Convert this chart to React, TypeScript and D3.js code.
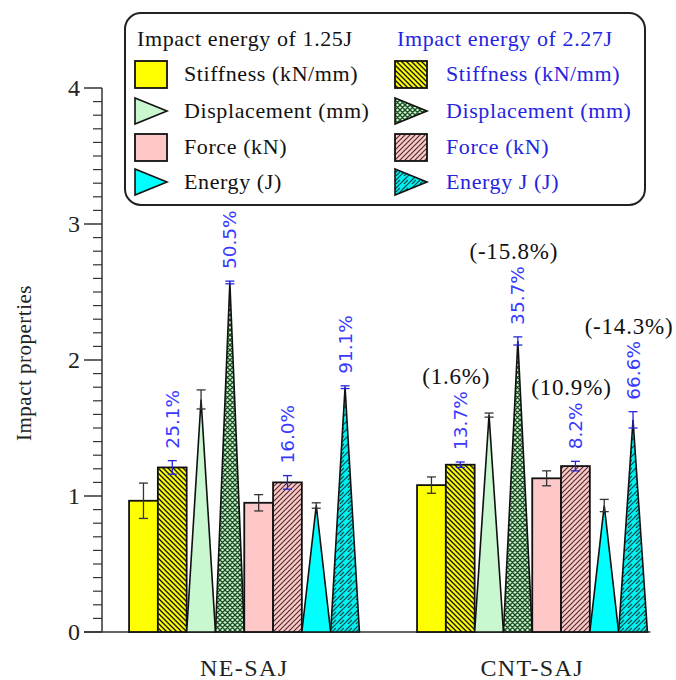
import React from "react";
import * as d3 from "d3";

const categories = ["NE-SAJ", "CNT-SAJ"];
const seriesNames = [
  "Stiffness (kN/mm)",
  "Stiffness (kN/mm) 2.27J",
  "Displacement (mm)",
  "Displacement (mm) 2.27J",
  "Force (kN)",
  "Force (kN) 2.27J",
  "Energy (J)",
  "Energy J (J) 2.27J",
];
const seriesShape = ["bar", "bar", "tri", "tri", "bar", "bar", "tri", "tri"];
const seriesFill = [
  "#ffff00",
  "url(#hatchYellow)",
  "#c8f7d0",
  "url(#crossGreen)",
  "#ffc8c8",
  "url(#hatchPink)",
  "#00ffff",
  "url(#brickCyan)",
];
const valuesNE = [0.965, 1.21, 1.71, 2.57, 0.95, 1.1, 0.93, 1.8];
const valuesCNT = [1.08, 1.23, 1.595, 2.14, 1.13, 1.22, 0.93, 1.56];
const errorsNE = [0.13, 0.05, 0.07, 0.01, 0.06, 0.05, 0.02, 0.01];
const errorsCNT = [0.06, 0.02, 0.015, 0.03, 0.055, 0.035, 0.045, 0.06];
const pctNE = ["", "25.1%", "", "50.5%", "", "16.0%", "", "91.1%"];
const pctCNT = ["", "13.7%", "", "35.7%", "", "8.2%", "", "66.6%"];
const noteCNT = ["", "(1.6%)", "", "(-15.8%)", "", "(10.9%)", "", "(-14.3%)"];
const yTicks = [0, 1, 2, 3, 4];
const legendLeftTitle = "Impact energy of 1.25J";
const legendRightTitle = "Impact energy of 2.27J";
const legendLeft = ["Stiffness (kN/mm)", "Displacement (mm)", "Force (kN)", "Energy (J)"];
const legendRight = ["Stiffness (kN/mm)", "Displacement (mm)", "Force (kN)", "Energy J (J)"];

const values = [valuesNE, valuesCNT];
const errors = [errorsNE, errorsCNT];
const pcts = [pctNE, pctCNT];
const notes = [["", "", "", "", "", "", "", ""], noteCNT];

const SERIF = "'Liberation Serif', 'Times New Roman', serif";
const SANS = "'DejaVu Sans', sans-serif";
const BLUE = "#2424e0";
const LBLUE = "#3a3aff";
const PCT_SIZE = 18.5;

// approximate DejaVu Sans advance widths (em)
const charW = (c: string) => (c === "." ? 0.318 : c === "%" ? 0.95 : 0.636);
const textLen = (s: string) => s.split("").reduce((a, c) => a + charW(c), 0) * PCT_SIZE;

export default function App() {
  const W = 676;
  const H = 680;
  const axisX = 102;
  const y = d3.scaleLinear().domain([0, 4]).range([632, 88]);
  const x0 = d3
    .scaleBand<string>()
    .domain(categories)
    .range([axisX, 674.5])
    .paddingInner(0.2)
    .paddingOuter(0.094);
  const x1 = d3
    .scaleBand<number>()
    .domain(d3.range(seriesNames.length))
    .range([0, x0.bandwidth()])
    .padding(0);
  const bw = x1.bandwidth();
  const minorTicks = d3
    .range(0, 40)
    .map((i) => i / 10)
    .filter((v) => Math.abs(v - Math.round(v)) > 1e-6);

  const marks: React.ReactNode[] = [];
  const errs: React.ReactNode[] = [];
  const labels: React.ReactNode[] = [];
  categories.forEach((cat, ci) => {
    seriesNames.forEach((_, si) => {
      const v = values[ci][si];
      const e = errors[ci][si];
      const left = (x0(cat) as number) + (x1(si) as number);
      const cx = left + bw / 2;
      const top = y(v);
      if (seriesShape[si] === "bar") {
        marks.push(
          <rect key={`m${ci}-${si}`} x={left} y={top} width={bw} height={y(0) - top}
            fill={seriesFill[si]} stroke="#111" strokeWidth={1.8} />
        );
      } else {
        marks.push(
          <path key={`m${ci}-${si}`} d={`M${left},${y(0)}L${cx},${top}L${left + bw},${y(0)}Z`}
            fill={seriesFill[si]} stroke="#111" strokeWidth={1.6} />
        );
      }
      const ec = si % 2 === 1 ? BLUE : "#333";
      const yt = y(v + e);
      const yb = y(v - e);
      errs.push(
        <g key={`e${ci}-${si}`} stroke={ec} strokeWidth={1.3}>
          <line x1={cx} x2={cx} y1={yt} y2={yb} />
          <line x1={cx - 4.5} x2={cx + 4.5} y1={yt} y2={yt} />
          <line x1={cx - 4.5} x2={cx + 4.5} y1={yb} y2={yb} />
        </g>
      );
      const p = pcts[ci][si];
      if (p) {
        const ly = yt - 12;
        labels.push(
          <text key={`p${ci}-${si}`} transform={`translate(${cx + 6.5},${ly}) rotate(-90)`}
            fontFamily={SANS} fontSize={PCT_SIZE} fill={LBLUE}>{p}</text>
        );
        const n = notes[ci][si];
        if (n) {
          labels.push(
            <text key={`n${ci}-${si}`} x={cx - 4} y={ly - textLen(p) - 7} textAnchor="middle"
              fontFamily={SERIF} fontSize={23} letterSpacing={0.8} fill="#111">{n}</text>
          );
        }
      }
    });
  });

  const rowY = [74, 111, 147, 182];
  const legendSymbol = (si: number, lx: number, cy: number) =>
    seriesShape[si] === "bar" ? (
      <rect x={lx} y={cy - 13} width={32} height={27} fill={seriesFill[si]} stroke="#111" strokeWidth={1.8} />
    ) : (
      <path d={`M${lx},${cy - 13}L${lx + 32},${cy}L${lx},${cy + 13}Z`} fill={seriesFill[si]} stroke="#111" strokeWidth={1.6} />
    );

  return (
    <svg width={W} height={H} style={{ position: "absolute", left: 0, top: 0, background: "#fff" }}>
      <defs>
        <pattern id="hatchYellow" patternUnits="userSpaceOnUse" width={5} height={5}>
          <rect width={5} height={5} fill="#ffff00" />
          <path d="M-1,-1L6,6M-1,4L1,6M4,-1L6,1" stroke="#111" strokeWidth={1.3} />
        </pattern>
        <pattern id="hatchPink" patternUnits="userSpaceOnUse" width={5} height={5}>
          <rect width={5} height={5} fill="#ffc8c8" />
          <path d="M-1,6L6,-1M-1,1L1,-1M4,6L6,4" stroke="#4a3030" strokeWidth={1.2} />
        </pattern>
        <pattern id="crossGreen" patternUnits="userSpaceOnUse" width={5} height={5}>
          <rect width={5} height={5} fill="#c8f7d0" />
          <path d="M-1,-1L6,6M-1,6L6,-1M-1,4L1,6M4,-1L6,1M-1,1L1,-1M4,6L6,4" stroke="#1e4a22" strokeWidth={1.3} />
        </pattern>
        <pattern id="brickCyan" patternUnits="userSpaceOnUse" width={8} height={8}>
          <rect width={8} height={8} fill="#00f0f0" />
          <path d="M0,8L8,0M-1,1L1,-1M7,9L9,7M2,6L6,2M4,8L8,4" stroke="#0b4a4a" strokeWidth={1.1} fill="none" />
        </pattern>
      </defs>

      {/* y axis */}
      <g stroke="#333" strokeWidth={1.5}>
        <line x1={axisX} x2={axisX} y1={y(4)} y2={y(0)} />
        {yTicks.map((t) => (
          <line key={`t${t}`} x1={axisX - 18} x2={axisX} y1={y(t)} y2={y(t)} />
        ))}
        {minorTicks.map((t) => (
          <line key={`mt${t}`} x1={axisX - 9} x2={axisX} y1={y(t)} y2={y(t)} strokeWidth={1.2} />
        ))}
        <line x1={axisX - 18} x2={(x0("CNT-SAJ") as number) + x0.bandwidth() + 3} y1={y(0)} y2={y(0)} />
      </g>
      {yTicks.map((t) => (
        <text key={`tl${t}`} x={axisX - 22} y={y(t) + 8} textAnchor="end" fontFamily={SERIF} fontSize={24} fill="#222">
          {t}
        </text>
      ))}
      <text transform={`translate(31,363) rotate(-90)`} textAnchor="middle" fontFamily={SERIF} fontSize={21}
        letterSpacing={0.5} fill="#222">
        Impact properties
      </text>

      {marks}
      {errs}
      {labels}

      {categories.map((c) => (
        <text key={c} x={(x0(c) as number) + x0.bandwidth() / 2} y={676} textAnchor="middle"
          fontFamily={SERIF} fontSize={24} letterSpacing={1.4} fill="#222">{c}</text>
      ))}

      {/* legend */}
      <rect x={125} y={13} width={520} height={192} rx={16} ry={16} fill="#fff" stroke="#222" strokeWidth={2} />
      <text x={137} y={46} fontFamily={SERIF} fontSize={22} letterSpacing={0.6} fill="#111">{legendLeftTitle}</text>
      <text x={397} y={46} fontFamily={SERIF} fontSize={22} letterSpacing={0.6} fill={BLUE}>{legendRightTitle}</text>
      {legendLeft.map((name, i) => (
        <g key={`ll${i}`}>
          {legendSymbol(i * 2, 135, rowY[i])}
          <text x={184} y={rowY[i] + 7} fontFamily={SERIF} fontSize={22} letterSpacing={0.6} fill="#111">{name}</text>
        </g>
      ))}
      {legendRight.map((name, i) => (
        <g key={`lr${i}`}>
          {legendSymbol(i * 2 + 1, 395, rowY[i])}
          <text x={446} y={rowY[i] + 7} fontFamily={SERIF} fontSize={22} letterSpacing={0.6} fill={BLUE}>{name}</text>
        </g>
      ))}
    </svg>
  );
}
